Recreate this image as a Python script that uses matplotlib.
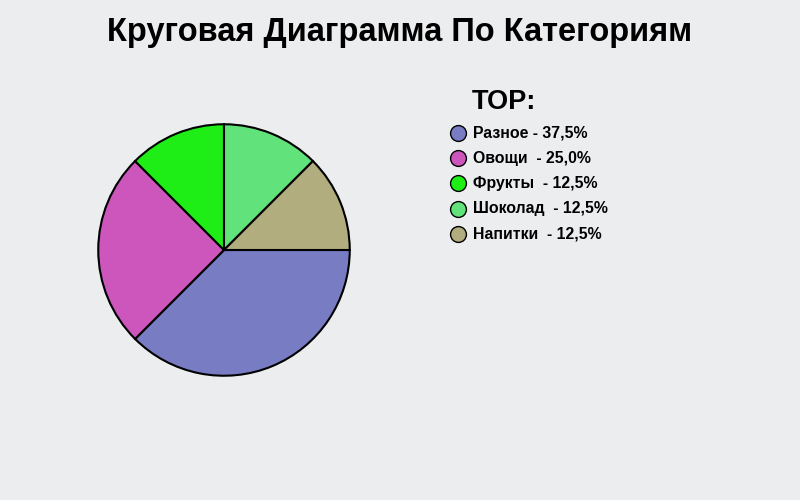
import matplotlib.pyplot as plt

# данные
categories = ['Разное', 'Овощи', 'Фрукты', 'Шоколад', 'Напитки']
values = [37.5, 25.0, 12.5, 12.5, 12.5]
legend_labels = ['Разное - 37,5%', 'Овощи  - 25,0%', 'Фрукты  - 12,5%',
                 'Шоколад  - 12,5%', 'Напитки  - 12,5%']
colors = ['#787DC3', '#CC56BB', '#1FEE16', '#62E27A', '#B2AD7E']

plt.rcParams['font.family'] = ['Liberation Sans', 'DejaVu Sans']
bg = '#ECEDEF'

fig = plt.figure(figsize=(8, 5), dpi=100, facecolor=bg)

# круговая диаграмма
ax = fig.add_axes([97 / 800, 123 / 500, 254 / 800, 254 / 500])
ax.pie(values, colors=colors, startangle=0, counterclock=False,
       wedgeprops=dict(edgecolor='black', linewidth=1.5))
ax.set_xlim(-1.01, 1.01)
ax.set_ylim(-1.01, 1.01)
ax.set_aspect('equal')
ax.axis('off')

# слой для подписей в пикселях
ov = fig.add_axes([0, 0, 1, 1])
ov.set_xlim(0, 800)
ov.set_ylim(500, 0)
ov.axis('off')
ov.patch.set_alpha(0)

ov.text(400, 33, 'Круговая Диаграмма По Категориям', ha='center', va='center',
        fontsize=23.5, fontweight='bold')
ov.text(472, 102, 'TOP:', ha='left', va='center', fontsize=19.5, fontweight='bold')

for i, (lab, c) in enumerate(zip(legend_labels, colors)):
    y = 133 + i * 25.2
    ov.scatter([458], [y], s=130, marker='o', color=c, edgecolors='black',
               linewidths=1.0, zorder=3)
    ov.text(473, y, lab, ha='left', va='center', fontsize=11.4, fontweight='bold')

plt.savefig('out.png', dpi=100, facecolor=bg)
